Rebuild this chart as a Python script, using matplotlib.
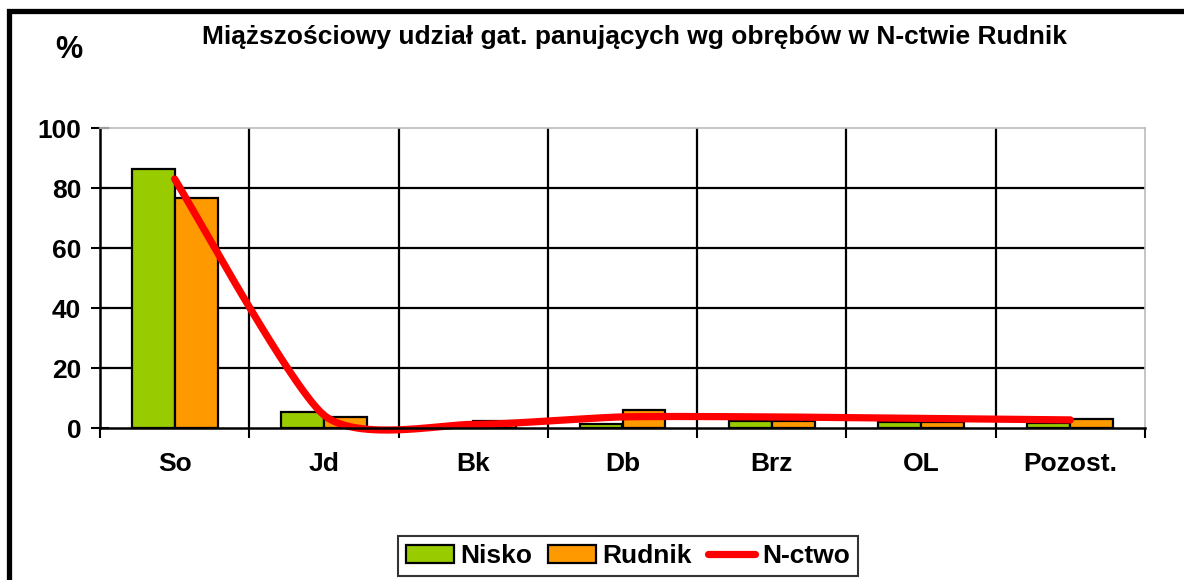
import numpy as np
import matplotlib
matplotlib.use("Agg")
import matplotlib.pyplot as plt
from matplotlib.patches import Rectangle
from matplotlib.lines import Line2D
from matplotlib.patches import Patch

categories = ["So", "Jd", "Bk", "Db", "Brz", "OL", "Pozost."]
nisko = [86.3, 5.4, 0.2, 1.2, 2.3, 2.1, 1.8]
rudnik = [76.6, 3.8, 2.3, 6.0, 2.3, 2.1, 2.9]
nctwo = [83.0, 4.3, 1.2, 3.7, 3.7, 3.2, 2.7]
yticks = [0, 20, 40, 60, 80, 100]

title = "Miąższościowy udział gat. panujących wg obrębów w N-ctwie Rudnik"

GREEN = "#99CC00"
ORANGE = "#FF9900"
RED = "#FF0000"

plt.rcParams['font.family'] = ['Liberation Sans', 'DejaVu Sans']
plt.rcParams['font.weight'] = 'bold'

W, H = 1184, 580
fig = plt.figure(figsize=(W / 100, H / 100), dpi=100)

def fx(px):
    return px / W

def fy(py):
    return 1 - py / H

ax = fig.add_axes([fx(100), fy(428), fx(1145) - fx(100), fy(128) - fy(428)])

x = np.arange(len(categories))
bw = 0.288
ax.bar(x - bw / 2, nisko, width=bw, color=GREEN, edgecolor="black", linewidth=1.6, zorder=3)
ax.bar(x + bw / 2, rudnik, width=bw, color=ORANGE, edgecolor="black", linewidth=1.6, zorder=3)

# Excel-like smoothed line (cubic Bezier through the points)
def smooth(xs, ys, f=0.11, n=60):
    P = np.column_stack([xs, ys]).astype(float)
    out = []
    m = len(P)
    for i in range(m - 1):
        p0 = P[i - 1] if i > 0 else P[i]
        p1 = P[i]
        p2 = P[i + 1]
        p3 = P[i + 2] if i + 2 < m else P[i + 1]
        c1 = p1 + f * (p2 - p0)
        c2 = p2 - f * (p3 - p1)
        t = np.linspace(0, 1, n)[:, None]
        seg = (1 - t) ** 3 * p1 + 3 * (1 - t) ** 2 * t * c1 + 3 * (1 - t) * t ** 2 * c2 + t ** 3 * p2
        out.append(seg if i == 0 else seg[1:])
    out = np.vstack(out)
    return out[:, 0], out[:, 1]

sx, sy = smooth(x, nctwo)
ax.plot(sx, sy, color=RED, linewidth=5.2, solid_capstyle="round", zorder=4, clip_on=False)

ax.set_xlim(-0.5, len(categories) - 0.5)
ax.set_ylim(0, 100)

ax.set_yticks(yticks)
ax.set_yticklabels([str(v) for v in yticks], fontsize=19, fontweight="bold")
ax.tick_params(axis="y", direction="inout", length=13, width=1.5, pad=7)

ax.set_xticks(x)
ax.set_xticklabels(categories, fontsize=19, fontweight="bold")
ax.tick_params(axis="x", which="major", length=0, pad=17)
ax.set_xticks(np.arange(-0.5, len(categories), 1.0), minor=True)
ax.tick_params(axis="x", which="minor", direction="out", length=7, width=1.5)

for v in yticks[1:-1]:
    ax.axhline(v, color="black", linewidth=1.6, zorder=1)
for b in np.arange(0.5, len(categories) - 0.5, 1.0):
    ax.axvline(b, color="black", linewidth=1.6, zorder=1)

for s in ["top", "right"]:
    ax.spines[s].set_color("#BBBBBB")
    ax.spines[s].set_linewidth(1.2)
for s in ["left", "bottom"]:
    ax.spines[s].set_color("black")
    ax.spines[s].set_linewidth(1.8)
ax.spines["bottom"].set_zorder(5)

fig.text(fx(635), fy(37), title, ha="center", va="center", fontsize=19, fontweight="bold")
fig.text(fx(69), fy(50), "%", ha="center", va="center", fontsize=22, fontweight="bold")

# outer chart frame
fig.patches.append(Rectangle((fx(8.5), fy(H + 20)), fx(W + 40), fy(11.5) - fy(H + 20),
                             transform=fig.transFigure, fill=False, edgecolor="black",
                             linewidth=3.8, zorder=10))

handles = [Patch(facecolor=GREEN, edgecolor="black", linewidth=1.6),
           Patch(facecolor=ORANGE, edgecolor="black", linewidth=1.6),
           Line2D([0], [0], color=RED, linewidth=5.2, solid_capstyle="round")]
leg = fig.legend(handles, ["Nisko", "Rudnik", "N-ctwo"], loc="center",
                 bbox_to_anchor=(fx(628), fy(556)), ncol=3, frameon=True,
                 fancybox=False, edgecolor="black",
                 prop={"weight": "bold", "size": 19},
                 handlelength=1.8, handleheight=0.7, handletextpad=0.25,
                 columnspacing=0.6, borderpad=0.3, borderaxespad=0)
leg.get_frame().set_linewidth(1.5)

fig.savefig("out.png", dpi=100)
